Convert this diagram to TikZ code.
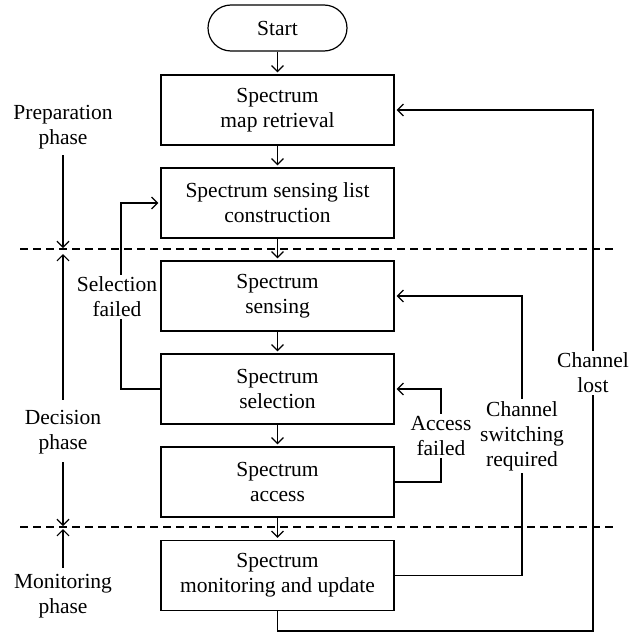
\documentclass[tikz,border=0pt]{standalone}
\usepackage{fontspec}
\setmainfont{Liberation Serif}
\usetikzlibrary{arrows.meta}
\tikzset{
  every node/.style={font=\fontsize{21.5}{25}\selectfont},
  box/.style={draw, line width=1.2pt, minimum width=233pt, minimum height=70pt, align=center, inner sep=0pt},
  startbox/.style={draw, line width=1.2pt, rounded corners=23pt, minimum width=139pt, minimum height=46pt, inner sep=0pt},
  lbl/.style={align=center, fill=white, inner sep=2pt},
  phase/.style={align=center, inner sep=2pt},
  arr/.style={-{Straight Barb[length=6pt,width=12pt]}, line width=1.2pt},
  barr/.style={arr, shorten >=2pt},
  dline/.style={line width=1.2pt, dash pattern=on 8pt off 5pt}
}
\begin{document}
\begin{tikzpicture}[x=1pt,y=-1pt]
\useasboundingbox (0,0) rectangle (640,634);
% nodes
\node[startbox] (start) at (277.5,28) {Start};
\node[box] (b1) at (277.5,110) {Spectrum\\map retrieval};
\node[box] (b2) at (277.5,203) {Spectrum sensing list\\construction};
\node[box] (b3) at (277.5,296) {Spectrum\\sensing};
\node[box] (b4) at (277.5,389) {Spectrum\\selection};
\node[box] (b5) at (277.5,482) {Spectrum\\access};
\node[box] (b6) at (277.5,575.5) {Spectrum\\monitoring and update};
% dashed phase borders
\coordinate (d1l) at (20,249);
\coordinate (d1r) at (616,249);
\coordinate (d2l) at (20,527);
\coordinate (d2r) at (616,527);
\draw[dline] (d1l) -- (d1r);
\draw[dline] (d2l) -- (d2r);
% main flow
\draw[barr] (start) -- (b1);
\draw[barr] (b1) -- (b2);
\draw[barr] (b2) -- (b3);
\draw[barr] (b3) -- (b4);
\draw[barr] (b4) -- (b5);
\draw[barr] (b5) -- (b6);
% loops
\coordinate (lostc) at (593,631);
\coordinate (swc) at (522,296);
\coordinate (afc) at (441,389);
\coordinate (sfc) at (121,203);
\draw[barr] (b6.south) |- (lostc) |- (b1.east);
\draw[barr] (b6.east) -| (swc) -- (b3.east);
\draw[barr] (b5.east) -| (afc) -- (b4.east);
\draw[barr] (b4.west) -| (sfc) -- (b2.west);
% loop labels
\node[lbl] (llost) at (593,373) {Channel\\lost};
\node[lbl] (lsw) at (522,436) {Channel\\switching\\required};
\node[lbl] (laf) at (441,436) {Access\\failed};
\node[lbl] (lsf) at (117,297) {Selection\\failed};
% phase labels
\node[phase] (prep) at (63,127) {Preparation\\phase};
\node[phase] (dec) at (63,432) {Decision\\phase};
\node[phase] (mon) at (63,596) {Monitoring\\phase};
\coordinate (p1) at (63,248);
\coordinate (p2) at (63,254);
\coordinate (p3) at (63,526);
\coordinate (p4) at (63,529);
\draw[arr, shorten <=4pt] (prep.south) -- (p1);
\draw[arr, shorten <=8pt] (dec.north) -- (p2);
\draw[arr, shorten <=6pt] (dec.south) -- (p3);
\draw[arr, shorten <=4pt] (mon.north) -- (p4);
\end{tikzpicture}
\end{document}
